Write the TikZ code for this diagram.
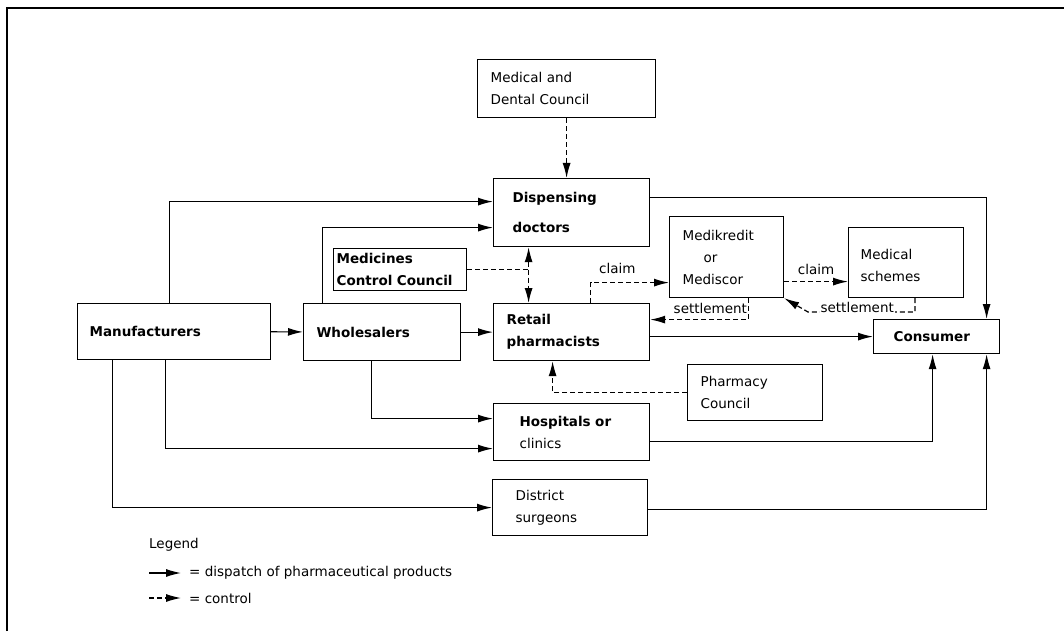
\documentclass[tikz,border=0pt]{standalone}
\usepackage{fontspec}
\setmainfont{DejaVu Sans}
\usetikzlibrary{arrows.meta}

\begin{document}
\begin{tikzpicture}[x=1pt,y=-1pt,
  box/.style={draw, line width=1.2pt, anchor=north west, align=left, inner xsep=13pt, inner ysep=0pt, font=\fontsize{13.5}{22}\selectfont},
  boldbox/.style={box, font=\fontsize{13.5}{22}\selectfont\bfseries},
  flow/.style={line width=1.2pt, -{Latex[length=15pt,width=8pt]}},
  ctrl/.style={flow, dash pattern=on 5pt off 3pt},
  lbl/.style={font=\fontsize{13.5}{22}\selectfont, inner sep=1pt}]
\useasboundingbox (0,0) rectangle (1064,631);
\draw[line width=2pt] (7,631) -- (7,8) -- (1064,8);

\node[box, text width=152pt, minimum height=58pt] (mdc) at (477,59) {Medical and\\Dental Council};
\node[boldbox, inner xsep=19pt, text width=118pt, minimum height=68pt] (disp) at (493,178) {Dispensing\\[8pt]doctors};
\node[boldbox, inner xsep=3pt, text width=127pt, minimum height=42pt] (mcc) at (333,248) {Medicines\\Control Council};
\node[boldbox, inner xsep=12pt, text width=169pt, minimum height=56pt] (manu) at (77,303) {Manufacturers};
\node[boldbox, text width=131pt, minimum height=57pt] (whole) at (303,303) {Wholesalers};
\node[boldbox, text width=130pt, minimum height=57pt] (retail) at (493,303) {Retail\\pharmacists};
\node[box, text width=88pt, minimum height=81pt] (medik) at (669,216) {Medikredit\\\hspace*{21pt}or\\Mediscor};
\node[box, inner xsep=12pt, text width=91pt, minimum height=70pt] (schemes) at (848,227) {\\[-6pt]Medical\\schemes};
\node[boldbox, inner xsep=20pt, text width=86pt, minimum height=34pt] (cons) at (873,319) {Consumer};
\node[box, text width=109pt, minimum height=56pt] (phc) at (687,364) {Pharmacy\\Council};
\node[box, inner xsep=26pt, text width=104pt, minimum height=57pt] (hosp) at (493,403) {\textbf{Hospitals or}\\clinics};
\node[box, inner xsep=23pt, text width=109pt, minimum height=56pt] (dist) at (492,479) {District\\surgeons};

\draw[ctrl] (mdc.south) -- (mdc.south |- disp.north);
\draw[flow] ([xshift=-4.5pt]manu.north) |- ([yshift=11pt]disp.west);
\draw[flow] ([xshift=-59.5pt]whole.north) |- ([yshift=-15pt]disp.west);
\draw[flow] (manu) -- (whole);
\draw[flow] (whole) -- (retail);

\coordinate (dv) at ([xshift=-43pt]disp.south);
\draw[ctrl, {Latex[length=15pt,width=8pt]}-{Latex[length=15pt,width=8pt]}] (dv) -- (dv |- retail.north);
\draw[ctrl, -] (mcc.east) -- (mcc.east -| dv);

\draw[ctrl] ([xshift=19pt]retail.north) |- node[lbl, pos=0.67, above=7pt] {claim} ([yshift=-25.5pt]medik.west);
\draw[ctrl] ([xshift=22pt]medik.south) |- node[lbl, pos=0.23, left] {settlement} ([yshift=12.5pt]retail.east);
\draw[ctrl] ([yshift=-24.5pt]medik.east) -- ([yshift=-24.5pt]medik.east -| schemes.west) node[lbl, midway, above=5pt] {claim};
\coordinate (sj) at (915,312);
\coordinate (st) at (808,312);
\draw[ctrl] (schemes.south -| sj) |- node[lbl, pos=0.77, anchor=base, fill=white] (setl) {settlement} (st) -- (medik.south east);

\draw[flow] ([yshift=15pt]disp.east) -| ([xshift=50pt]cons.north);
\draw[flow] (retail.east |- cons.west) -- (cons.west);
\draw[ctrl] (phc.west) -| ([xshift=-19pt]retail.south);
\draw[flow] ([xshift=-10.5pt]whole.south) |- ([yshift=13.5pt]hosp.west);
\draw[flow] ([xshift=-8.5pt]manu.south) |- ([yshift=-16.5pt]hosp.west);
\draw[flow] ([xshift=-61.5pt]manu.south) |- (dist.west);
\draw[flow] ([yshift=-9.5pt]hosp.east) -| ([xshift=-4pt]cons.south);
\draw[flow] ([yshift=-2pt]dist.east) -| ([xshift=50pt]cons.south);

\node[lbl, anchor=west] (leg) at (148,545) {Legend};
\coordinate (fa) at (149,573);
\coordinate (fb) at (181,573);
\coordinate (ca) at (149,598);
\coordinate (cb) at (181,598);
\draw[flow] (fa) -- (fb);
\draw[ctrl] (ca) -- (cb);
\node[lbl, anchor=west] (legflow) at (188,573) {= dispatch of pharmaceutical products};
\node[lbl, anchor=west] (legctrl) at (188,598) {= control};
\end{tikzpicture}
\end{document}
